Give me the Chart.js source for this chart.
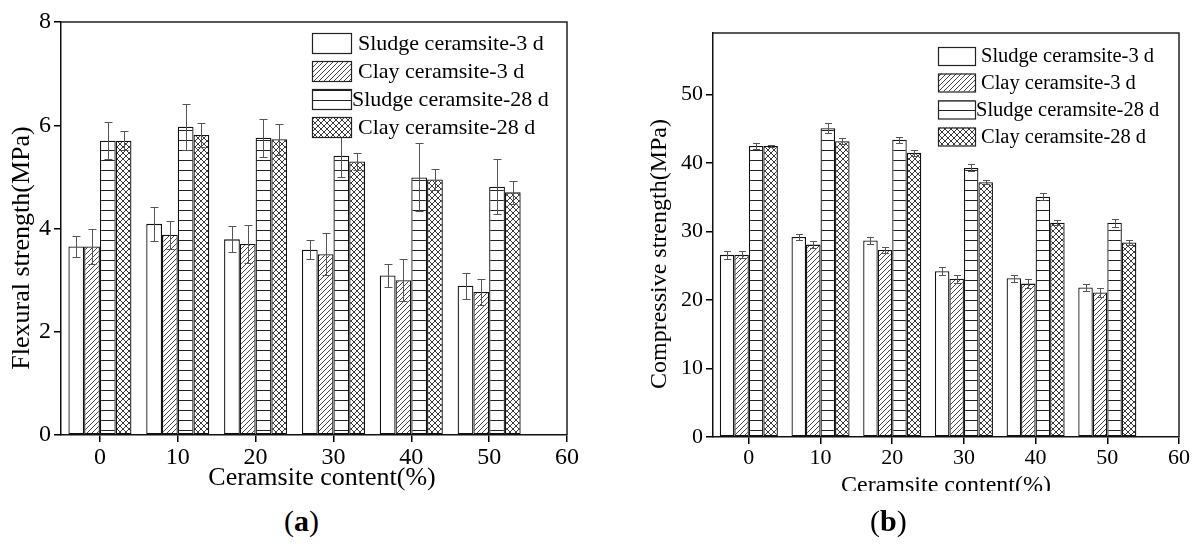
<!DOCTYPE html>
<html>
<head>
<meta charset="utf-8">
<script src="https://cdn.jsdelivr.net/npm/chart.js@4.4.1/dist/chart.umd.min.js"></script>
<style>
  body { margin: 0; background: #fff; width: 1199px; height: 544px; position: relative; overflow: hidden;
         font-family: 'Liberation Serif', 'Times New Roman', serif; }
  #ca { position: absolute; left: 0; top: 0; }
  #cb { position: absolute; left: 600px; top: 0; }
  #mask { position: absolute; left: 600px; top: 491px; width: 599px; height: 40px; background: #fff; }
  .cap { position: absolute; top: 504px; font-size: 30px; color: #000; }
</style>
</head>
<body>
<canvas id="ca" width="600" height="500"></canvas>
<canvas id="cb" width="599" height="520"></canvas>
<div id="mask"></div>
<div class="cap" style="left:284px">(<b>a</b>)</div>
<div class="cap" style="left:870px">(<b>b</b>)</div>

<script>
// data
const contents = [0, 10, 20, 30, 40, 50];
const xTickLabels = [0, 10, 20, 30, 40, 50, 60];
const seriesNames = ['Sludge ceramsite-3 d', 'Clay ceramsite-3 d', 'Sludge ceramsite-28 d', 'Clay ceramsite-28 d'];

// (a) flexural strength, MPa
const flexTicks = [0, 2, 4, 6, 8];
const flexSludge3 = [3.65, 4.09, 3.79, 3.59, 3.09, 2.89];
const flexSludge3Err = [0.21, 0.33, 0.25, 0.19, 0.22, 0.25];
const flexClay3 = [3.65, 3.88, 3.70, 3.50, 3.00, 2.77];
const flexClay3Err = [0.34, 0.27, 0.36, 0.41, 0.40, 0.26];
const flexSludge28 = [5.70, 5.97, 5.76, 5.41, 4.99, 4.81];
const flexSludge28Err = [0.36, 0.44, 0.37, 0.42, 0.66, 0.53];
const flexClay28 = [5.70, 5.81, 5.73, 5.30, 4.95, 4.70];
const flexClay28Err = [0.18, 0.23, 0.30, 0.17, 0.21, 0.22];

// (b) compressive strength, MPa
const compTicks = [0, 10, 20, 30, 40, 50];
const compSludge3 = [26.6, 29.2, 28.7, 24.2, 23.2, 21.85];
const compSludge3Err = [0.6, 0.5, 0.5, 0.6, 0.5, 0.5];
const compClay3 = [26.6, 28.1, 27.3, 23.1, 22.4, 21.1];
const compClay3Err = [0.5, 0.5, 0.5, 0.6, 0.7, 0.7];
const compSludge28 = [42.5, 45.1, 43.4, 39.3, 35.1, 31.3];
const compSludge28Err = [0.5, 0.7, 0.4, 0.5, 0.5, 0.6];
const compClay28 = [42.5, 43.2, 41.5, 37.2, 31.3, 28.4];
const compClay28Err = [0.2, 0.4, 0.4, 0.3, 0.4, 0.4];

const serif = "'Liberation Serif', 'Times New Roman', serif";
Chart.defaults.font.family = serif;
Chart.defaults.color = '#000';

// hatch fills
function makePattern(ctx, kind) {
  const t = document.createElement('canvas');
  const g = t.getContext('2d');
  if (kind === 'diag') {
    t.width = 5; t.height = 5;
    g.fillStyle = '#fff'; g.fillRect(0, 0, 5, 5);
    g.strokeStyle = '#333'; g.lineWidth = 0.9;
    g.beginPath();
    g.moveTo(0, 5); g.lineTo(5, 0);
    g.moveTo(-1, 1); g.lineTo(1, -1);
    g.moveTo(4, 6); g.lineTo(6, 4);
    g.stroke();
  } else if (kind === 'cross') {
    t.width = 6; t.height = 6;
    g.fillStyle = '#fff'; g.fillRect(0, 0, 6, 6);
    g.strokeStyle = '#222'; g.lineWidth = 0.9;
    g.beginPath();
    g.moveTo(0, 6); g.lineTo(6, 0);
    g.moveTo(0, 0); g.lineTo(6, 6);
    g.moveTo(-1, 1); g.lineTo(1, -1); g.moveTo(5, 7); g.lineTo(7, 5);
    g.moveTo(-1, 5); g.lineTo(1, 7); g.moveTo(5, -1); g.lineTo(7, 1);
    g.stroke();
  } else if (kind === 'horiz') {
    t.width = 10; t.height = 10;
    g.fillStyle = '#fff'; g.fillRect(0, 0, 10, 10);
    g.fillStyle = '#222'; g.fillRect(0, 0, 10, 1);
  } else {
    return '#fff';
  }
  return ctx.createPattern(t, 'repeat');
}

const errorBars = {
  id: 'errorBars',
  afterDatasetsDraw(chart, args, opts) {
    const ctx = chart.ctx, y = chart.scales.y;
    ctx.save();
    ctx.strokeStyle = opts.color; ctx.lineWidth = 1;
    chart.data.datasets.forEach((ds, di) => {
      chart.getDatasetMeta(di).data.forEach((bar, i) => {
        const v = ds.data[i].y, e = ds.errors[i];
        const x = Math.round(bar.x) + 0.5;
        const top = Math.round(y.getPixelForValue(v + e)) + 0.5;
        const bot = Math.round(y.getPixelForValue(v - e)) + 0.5;
        ctx.beginPath();
        ctx.moveTo(x, top); ctx.lineTo(x, bot);
        ctx.moveTo(x - opts.cap, top); ctx.lineTo(x + opts.cap, top);
        ctx.moveTo(x - opts.cap, bot); ctx.lineTo(x + opts.cap, bot);
        ctx.stroke();
      });
    });
    ctx.restore();
  }
};

const frameAndLegend = {
  id: 'frameAndLegend',
  afterDraw(chart, args, o) {
    const ctx = chart.ctx, a = chart.chartArea;
    ctx.save();
    ctx.strokeStyle = '#222'; ctx.lineWidth = 1.5;
    ctx.beginPath();
    ctx.moveTo(a.left, a.top); ctx.lineTo(a.right, a.top); ctx.lineTo(a.right, a.bottom);
    ctx.stroke();

    // axis titles (placed a little off-centre, as in the figure)
    ctx.fillStyle = '#000';
    ctx.textAlign = 'center';
    ctx.textBaseline = 'middle';
    ctx.font = o.xTitle.size + 'px ' + serif;
    ctx.fillText('Ceramsite content(%)', o.xTitle.x, o.xTitle.y);
    ctx.save();
    ctx.translate(o.yTitle.x, o.yTitle.y);
    ctx.rotate(-Math.PI / 2);
    ctx.font = o.yTitle.size + 'px ' + serif;
    ctx.fillText(o.yTitle.text, 0, 0);
    ctx.restore();

    // legend drawn inside the plot, no frame
    ctx.textAlign = 'left';
    ctx.font = o.size + 'px ' + serif;
    chart.data.datasets.forEach((ds, i) => {
      const top = o.tops[i];
      ctx.fillStyle = '#fff'; ctx.fillRect(o.x, top, o.w, o.h);
      ctx.fillStyle = ds.backgroundColor; ctx.fillRect(o.x, top, o.w, o.h);
      ctx.strokeStyle = '#222'; ctx.lineWidth = 1.2;
      ctx.strokeRect(o.x + 0.5, top + 0.5, o.w, o.h);
      ctx.fillStyle = '#000';
      ctx.fillText(ds.label, o.x + o.w + o.gaps[i], top + o.h / 2 + 1);
    });
    ctx.restore();
  }
};

function buildChart(id, cfg) {
  const ctx = document.getElementById(id).getContext('2d');
  const kinds = ['white', 'diag', 'horiz', 'cross'];
  const datasets = cfg.series.map((vals, k) => ({
    label: seriesNames[k],
    data: contents.map((c, i) => ({ x: c, y: vals[i] })),
    errors: cfg.errors[k],
    backgroundColor: makePattern(ctx, kinds[k]),
    borderColor: '#111',
    borderWidth: 1.3,
    borderSkipped: false,
    categoryPercentage: 0.81,
    barPercentage: 1.0
  }));

  return new Chart(ctx, {
    type: 'bar',
    data: { datasets },
    plugins: [errorBars, frameAndLegend],
    options: {
      responsive: false,
      animation: false,
      devicePixelRatio: 1,
      layout: { padding: cfg.padding },
      plugins: {
        legend: { display: false },
        tooltip: { enabled: false },
        errorBars: { color: '#555', cap: cfg.cap },
        frameAndLegend: cfg.legend
      },
      scales: {
        x: {
          type: 'linear', min: -5, max: 60, offset: false,
          afterBuildTicks: s => { s.ticks = xTickLabels.map(v => ({ value: v })); },
          afterFit: s => { s.height = cfg.xHeight; },
          ticks: { font: { size: cfg.tickSize }, color: '#000', padding: 1, maxRotation: 0, autoSkip: false },
          grid: { display: true, drawOnChartArea: false, drawTicks: true, tickLength: 7, color: '#000', lineWidth: 1.5, offset: false },
          border: { display: true, color: '#111', width: 1.5 },
          title: { display: false }
        },
        y: {
          min: 0, max: cfg.yMax,
          afterBuildTicks: s => { s.ticks = cfg.yTicks.map(v => ({ value: v })); },
          afterFit: s => { s.width = cfg.yWidth; },
          ticks: { font: { size: cfg.tickSize }, color: '#000', padding: 3 },
          grid: { display: true, drawOnChartArea: false, drawTicks: true, tickLength: 7, color: '#000', lineWidth: 1.5 },
          border: { display: true, color: '#111', width: 1.5 },
          title: { display: false }
        }
      }
    }
  });
}

buildChart('ca', {
  series: [flexSludge3, flexClay3, flexSludge28, flexClay28],
  errors: [flexSludge3Err, flexClay3Err, flexSludge28Err, flexClay28Err],
  yMax: 8, yTicks: flexTicks,
  padding: { top: 22, right: 33, left: 0, bottom: 0 },
  xHeight: 65, yWidth: 61, tickSize: 24,
  cap: 4,
  legend: { x: 312, tops: [33, 61, 89, 117], w: 39, h: 20, size: 22, gaps: [7, 7, 1, 7],
            xTitle: { x: 322, y: 478, size: 26 },
            yTitle: { x: 22, y: 248, size: 26, text: 'Flexural strength(MPa)' } }
});

buildChart('cb', {
  series: [compSludge3, compClay3, compSludge28, compClay28],
  errors: [compSludge3Err, compClay3Err, compSludge28Err, compClay28Err],
  yMax: 59, yTicks: compTicks,
  padding: { top: 33, right: 20, left: 0, bottom: 0 },
  xHeight: 83, yWidth: 113, tickSize: 22,
  cap: 3.5,
  legend: { x: 338, tops: [47, 73.5, 100.5, 127.5], w: 37, h: 18, size: 20.5, gaps: [6, 6, 1, 6],
            xTitle: { x: 346, y: 486, size: 24 },
            yTitle: { x: 60, y: 254, size: 24, text: 'Compressive strength(MPa)' } }
});
</script>
</body>
</html>
